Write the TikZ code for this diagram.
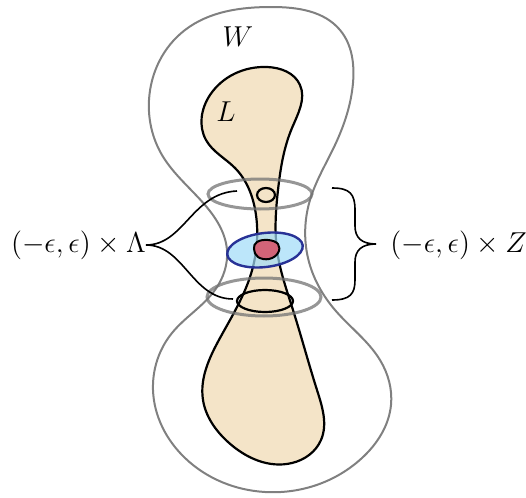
\documentclass[tikz,border=0pt]{standalone}
\usepackage{tikz}
\usetikzlibrary{hobby}
\begin{document}
\begin{tikzpicture}[x=0.5pt,y=-0.5pt,
  outl/.style={draw=black!50, line width=1pt},
  lag/.style={draw=black, line width=1.1pt, fill=tan},
  ring/.style={draw=black!55, line width=1.5pt, opacity=0.75},
  loopc/.style={draw=black, line width=1.1pt},
  lbl/.style={font=\fontsize{14.3}{17}\selectfont, inner sep=0pt},
  brc/.style={draw=black, line width=0.8pt}]
\definecolor{tan}{RGB}{244,228,200}
\definecolor{lblue}{RGB}{160,220,248}
\definecolor{dblue}{RGB}{40,50,150}
\definecolor{rosy}{RGB}{210,100,120}
\useasboundingbox (0,0) rectangle (526,498);
% W outline
\draw[outl, use Hobby shortcut, closed=true]
 (272,7) .. (340,30) .. (353,83) .. (335,145) .. (310,200) .. (309,262)
 .. (335,310) .. (380,360) .. (391,405) .. (362,458) .. (265,492)
 .. (185,458) .. (153,390) .. (172,333) .. (215,290) .. (227,250)
 .. (205,205) .. (162,155) .. (149,100) .. (185,30);
% L
\draw[lag, use Hobby shortcut, closed=true]
 (267,67) .. (300,85) .. (292,128) .. (278,190) .. (277,250)
 .. (293,310) .. (317,390) .. (321,440) .. (292,463)
 .. (228,442) .. (203,400) .. (220,338) .. (250,277) .. (256,215)
 .. (235,168) .. (206,140) .. (210,95);
% gray rings
\draw[ring] (260,194) ellipse (52 and 15);
\draw[ring] (264,297) ellipse (57 and 19);
% blue disk
\draw[draw=dblue, line width=1.2pt, fill=lblue, fill opacity=0.7, rotate around={7:(265,250)}] (265,250) ellipse (38 and 17);
% red blob
\draw[draw=black, line width=1pt, fill=rosy] plot[smooth cycle, tension=0.7] coordinates {
 (257,242) (268,240) (278,244) (278,253) (269,259) (258,257) (254,249)};
% loops
\draw[loopc] (266,195) ellipse (9 and 7);
\draw[loopc] (265,301) ellipse (28 and 11);
% labels
\node[lbl] (W) at (238,37) {$W$};
\node[lbl] (L) at (226,112) {$L$};
\node[lbl, anchor=east] (lam) at (146,245) {$(-\epsilon,\epsilon)\times\Lambda$};
\node[lbl, anchor=west] (zed) at (390,245) {$(-\epsilon,\epsilon)\times Z$};
\coordinate (lu) at (237,191);
\coordinate (ld) at (233,299);
\coordinate (rt) at (332,188);
\coordinate (rb) at (332,300);
\coordinate (rtip) at (376,244);
% connectors
\draw[brc] (lam.east) .. controls +(38,0) and (192,193) .. (lu);
\draw[brc] (lam.east) .. controls +(38,0) and (192,299) .. (ld);
\draw[brc] (rt) .. controls (350,188) and (355,194) .. (355,210) -- (355,226)
  .. controls (355,238) and (362,244) .. (rtip)
  .. controls (362,244) and (355,250) .. (355,262) -- (355,280)
  .. controls (355,294) and (350,300) .. (rb);
\end{tikzpicture}
\end{document}
